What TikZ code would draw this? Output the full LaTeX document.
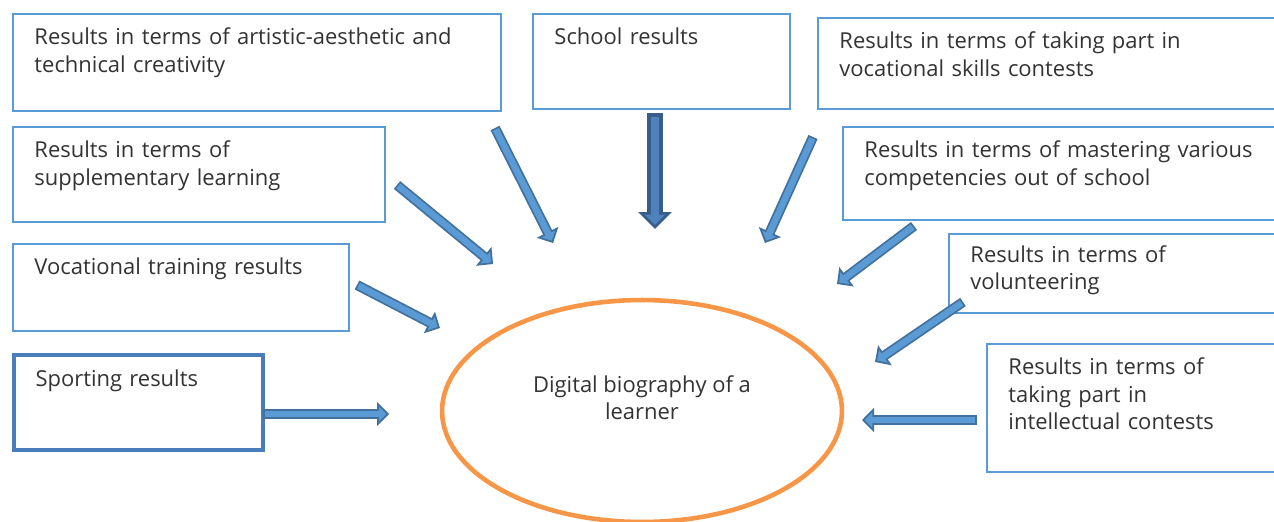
\documentclass[tikz,border=0pt]{standalone}
\usepackage{fontspec}
\setmainfont{Open Sans}
\usepackage{tikz}
\usetikzlibrary{positioning, arrows.meta, shapes.geometric}
\definecolor{boxBlue}{HTML}{5B9BD5}
\definecolor{sportBlue}{HTML}{4A7EBB}
\definecolor{arrowFill}{HTML}{5B9BD5}
\definecolor{arrowEdge}{HTML}{41719C}
\definecolor{schoolFill}{HTML}{4F81BD}
\definecolor{schoolEdge}{HTML}{385D8A}
\definecolor{bioOrange}{HTML}{F79646}
\definecolor{textGray}{HTML}{333333}
\tikzset{
  resultBox/.style={draw=boxBlue, line width=1.1pt, anchor=north west, align=left,
    inner xsep=0.43cm, inner ysep=0.3cm, text height=0.32cm, text=textGray,
    font=\fontsize{12.5}{15.4}\selectfont},
  blockArrow/.style={draw=arrowEdge, line width=5.7pt,
    -{Triangle[length=0.24cm, width=0.48cm, line width=1pt, fill=arrowFill]},
    postaction={draw=arrowFill, line width=3.7pt, -, shorten >=0.2cm, shorten <=1pt}},
  schoolArrow/.style={draw=schoolEdge, line width=9pt,
    -{Triangle[length=0.34cm, width=0.66cm, line width=1.5pt, fill=schoolFill]},
    postaction={draw=schoolFill, line width=5pt, -, shorten >=0.28cm, shorten <=2pt}}
}

\begin{document}
\begin{tikzpicture}[x=0.02cm, y=-0.02cm]

    \clip (0,0) rectangle (1274,521);
    \fill[white] (0,0) rectangle (1274,521);

    % result boxes
    \node[resultBox, text width=8.9cm, text depth=1.02cm] (artistic) at (12,13) {Results in terms of artistic-aesthetic and\\technical creativity};
    \node[resultBox, text width=4.28cm, text depth=0.98cm] (school) at (532,13) {School results};
    \node[resultBox, text width=8.54cm, text depth=0.9cm] (skills) at (817,17) {Results in terms of taking part in\\vocational skills contests};
    \node[resultBox, text width=6.58cm, text depth=0.98cm] (supplementary) at (12,126) {Results in terms of\\supplementary learning};
    \node[resultBox, text width=8.04cm, text depth=0.94cm] (mastering) at (842,126) {Results in terms of mastering various\\competencies out of school};
    \node[resultBox, text width=5.86cm, text depth=0.82cm] (vocational) at (12,243) {Vocational training results};
    \node[resultBox, text width=5.94cm, text depth=0.76cm, inner ysep=0.25cm] (volunteering) at (948,233) {Results in terms of\\volunteering};
    \node[resultBox, draw=sportBlue, line width=2.3pt, text width=4.12cm, text depth=0.98cm] (sporting) at (12,353) {Sporting results};
    \node[resultBox, text width=5.14cm, text depth=1.64cm] (intellectual) at (986,343) {Results in terms of\\taking part in\\intellectual contests};

    % the learner
    \node[ellipse, draw=bioOrange, line width=2.6pt, minimum width=8cm, minimum height=4.44cm] (bio) at (642,411) {};
    \node[align=center, text=textGray, font=\fontsize{12.5}{15.4}\selectfont] (bioText) at (642,398) {Digital biography of a\\learner};

    % arrow ends
    \coordinate (artFrom) at (495,128);
    \coordinate (artTo) at (553,243);
    \coordinate (schoolFrom) at (655,113);
    \coordinate (schoolTo) at (655,229);
    \coordinate (skillsFrom) at (813,137);
    \coordinate (skillsTo) at (765,243);
    \coordinate (suppFrom) at (397,185);
    \coordinate (suppTo) at (493,264);
    \coordinate (masterFrom) at (914,226);
    \coordinate (masterTo) at (837,284);
    \coordinate (vocFrom) at (357,285);
    \coordinate (vocTo) at (440,328);
    \coordinate (volFrom) at (963,302);
    \coordinate (volTo) at (875,362);
    \coordinate (sportFrom) at (263,414);
    \coordinate (sportTo) at (389,414);
    \coordinate (intelFrom) at (977,420);
    \coordinate (intelTo) at (862,420);

    \draw[blockArrow] (artFrom) -- (artTo);
    \draw[schoolArrow] (schoolFrom) -- (schoolTo);
    \draw[blockArrow] (skillsFrom) -- (skillsTo);
    \draw[blockArrow] (suppFrom) -- (suppTo);
    \draw[blockArrow] (masterFrom) -- (masterTo);
    \draw[blockArrow] (vocFrom) -- (vocTo);
    \draw[blockArrow] (volFrom) -- (volTo);
    \draw[blockArrow] (sportFrom) -- (sportTo);
    \draw[blockArrow] (intelFrom) -- (intelTo);

\end{tikzpicture}
\end{document}
